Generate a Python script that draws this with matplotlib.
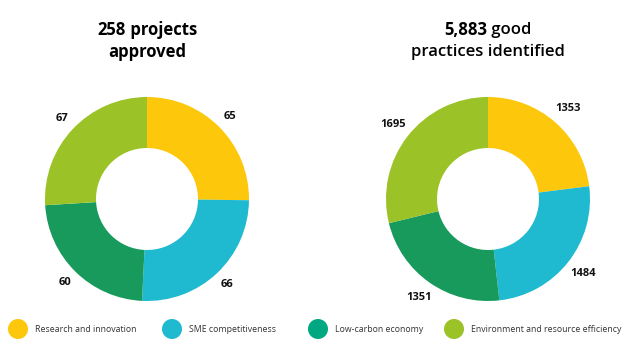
import matplotlib
matplotlib.use("Agg")
import matplotlib.pyplot as plt
from matplotlib import font_manager as fm
from matplotlib.patches import Circle

plt.rcParams["font.family"] = ["Open Sans", "DejaVu Sans"]

# ---- data ----
categories = ["Research and innovation", "SME competitiveness",
              "Low-carbon economy", "Environment and resource efficiency"]
projects = [65, 66, 60, 67]
practices = [1353, 1484, 1351, 1695]
title_numbers = ["258", "5,883"]
title_rest = [" projects", " good"]
title_line2 = ["approved", "practices identified"]
rest_weight = [700, 600]

pie_colors = ["#FDC70C", "#1FB9D0", "#189A5C", "#9BC226"]
legend_colors = ["#FDC70C", "#1FB9D0", "#00A882", "#9BC226"]


def _w(f):
    return fm.weight_dict[f.weight] if isinstance(f.weight, str) else f.weight


def open_sans(weight, size):
    # pick a non-condensed Open Sans file of the wanted weight if there is one
    files = [f for f in fm.fontManager.ttflist
             if f.name == "Open Sans" and "ondensed" not in f.fname
             and f.style == "normal"]
    files.sort(key=lambda f: abs(_w(f) - weight))
    if files:
        return fm.FontProperties(fname=files[0].fname, size=size)
    return fm.FontProperties(family="Open Sans", weight=weight, size=size)


W, H = 631, 355
fig = plt.figure(figsize=(W / 100, H / 100), dpi=100)


def px_axes(cx, cy, r):
    # cx, cy in pixels from top-left
    return fig.add_axes([(cx - r) / W, (H - cy - r) / H, 2 * r / W, 2 * r / H])


centres = [(147, 199), (488, 199)]
label_dist = [1.15, 1.18]
for i, vals in enumerate([projects, practices]):
    cx, cy = centres[i]
    ax = px_axes(cx, cy, 102)
    ax.pie(vals, colors=pie_colors, startangle=90, counterclock=False,
           labels=[str(v) for v in vals], labeldistance=label_dist[i],
           wedgeprops=dict(width=0.5, linewidth=0),
           textprops=dict(fontproperties=open_sans(700, 8), color="#111111"))
    for t in ax.texts:
        t.set_ha("center")
        t.set_va("center")
    ax.set_xlim(-1, 1)
    ax.set_ylim(-1, 1)
    ax.axis("off")

# ---- titles ----
fig.canvas.draw()
rend = fig.canvas.get_renderer()
for i in range(2):
    cx = centres[i][0]
    y1 = 1 - 30 / H
    t1 = fig.text(0, y1, title_numbers[i], fontproperties=open_sans(700, 12),
                  va="center", ha="left", color="#000000")
    t2 = fig.text(0, y1, title_rest[i],
                  fontproperties=open_sans(rest_weight[i], 12),
                  va="center", ha="left", color="#000000")
    w1 = t1.get_window_extent(rend).width
    w2 = t2.get_window_extent(rend).width
    x0 = cx - (w1 + w2) / 2
    t1.set_x(x0 / W)
    t2.set_x((x0 + w1) / W)
    fig.text(cx / W, 1 - 52 / H, title_line2[i],
             fontproperties=open_sans(rest_weight[i], 12),
             va="center", ha="center", color="#000000")

# ---- legend ----
leg_ax = fig.add_axes([0, 0, 1, 1])
leg_ax.set_xlim(0, W)
leg_ax.set_ylim(H, 0)
leg_ax.axis("off")
marker_x = [18, 172, 318, 454]
for x, c, lab in zip(marker_x, legend_colors, categories):
    leg_ax.add_patch(Circle((x, 329), 10, color=c, lw=0))
    leg_ax.text(x + 17, 329, lab, fontproperties=open_sans(400, 6.3),
                va="center", ha="left", color="#333333")

fig.savefig("out.png", dpi=100, facecolor="white")
